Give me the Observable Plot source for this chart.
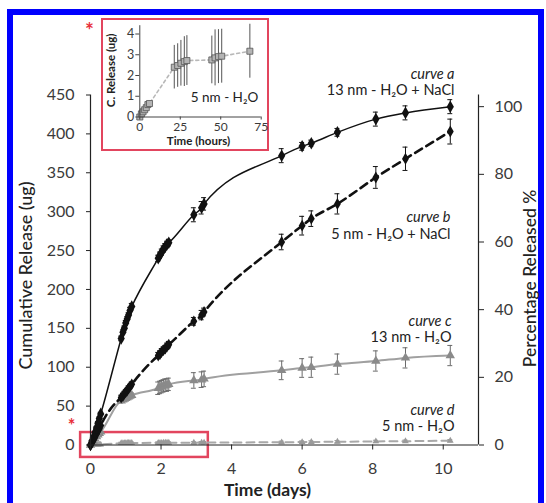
<!DOCTYPE html>
<html>
<head>
<meta charset="utf-8">
<script src="https://cdn.jsdelivr.net/npm/d3@7"></script>
<script src="https://cdn.jsdelivr.net/npm/@observablehq/plot@0.6"></script>
<style>
  html, body { margin: 0; padding: 0; background: #ffffff; }
  #wrap { position: relative; width: 546px; height: 503px; overflow: hidden; font-family: Lato, "Open Sans", sans-serif; }
  #frame { position: absolute; left: 7px; top: 9px; width: 537px; height: 520px; box-sizing: border-box;
           border: 6px solid #0000fe; border-bottom: none; }
  #main { position: absolute; left: 0; top: 0; }
  #insetBox { position: absolute; left: 101px; top: 18px; width: 168px; height: 133px; box-sizing: border-box;
              border: 2.5px solid #e2455e; background: #fff; }
  #inset { position: absolute; left: 101px; top: 18px; }
</style>
</head>
<body>
<div id="wrap">
  <div id="frame"></div>
  <div id="main"></div>
  <div id="insetBox"></div>
  <div id="inset"></div>
</div>
<script>
// ---------- DATA ----------
const sampleDays = [0, 0.04, 0.08, 0.125, 0.17, 0.21, 0.25, 0.29,
  0.87, 0.92, 0.96, 1.0, 1.04, 1.08, 1.12, 1.17,
  1.92, 1.97, 2.02, 2.07, 2.12, 2.17, 2.22,
  2.93, 3.15, 3.22,
  5.42, 6.0, 6.26, 7.0, 8.09, 8.93, 10.2];

// curve a: 13 nm - H2O + NaCl (ug)
const curveA = [0, 5, 10, 16, 22, 28, 34, 40,
  137, 145, 150, 157, 162, 167, 173, 178,
  240, 244, 248, 252, 255, 258, 260,
  296, 305, 310,
  372, 384, 388, 402, 419, 427, 435];
const errA = [0, 1, 1, 1, 2, 2, 2, 2,
  3, 3, 3, 3, 3, 3, 4, 4,
  4, 4, 4, 4, 4, 4, 4,
  9, 8, 8,
  9, 5, 4, 5, 9, 9, 9];

// curve b: 5 nm - H2O + NaCl (ug)
const curveB = [0, 3, 6, 10, 14, 18, 21, 25,
  61, 63, 66, 68, 70, 73, 75, 78,
  115, 117, 120, 122, 124, 127, 129,
  159, 167, 171,
  261, 282, 291, 310, 344, 368, 403];
const errB = [0, 1, 1, 1, 1, 1, 1, 1,
  3, 3, 3, 3, 3, 3, 3, 3,
  4, 4, 4, 4, 4, 4, 4,
  5, 6, 5,
  10, 12, 10, 13, 14, 15, 16];

// curve c: 13 nm - H2O (ug)
const curveC = [0, 3, 5, 8, 11, 13, 15, 17,
  57, 58, 59, 60, 61, 62, 63, 64,
  73, 74, 75, 76, 77, 77, 78,
  83, 84, 85,
  96, 99, 100, 104, 108, 112, 115];
const errC = [0, 1, 1, 1, 1, 1, 1, 1,
  3, 3, 3, 3, 3, 3, 3, 3,
  8, 8, 8, 8, 8, 8, 8,
  10, 10, 10,
  12, 12, 13, 13, 13, 13, 13];

// curve d: 5 nm - H2O (ug)
const curveD = [0, 0.1, 0.15, 0.25, 0.3, 0.4, 0.5, 0.6,
  2.4, 2.45, 2.5, 2.55, 2.6, 2.65, 2.7, 2.7,
  2.75, 2.8, 2.85, 2.9, 2.9, 2.92, 2.93,
  3.0, 3.1, 3.17,
  3.5, 3.8, 3.9, 4.2, 4.6, 4.9, 5.5];
const errD = [0, 0.1, 0.1, 0.1, 0.1, 0.1, 0.1, 0.1,
  1.1, 1.1, 1.1, 1.2, 1.2, 1.2, 1.2, 1.2,
  1.2, 1.3, 1.3, 1.3, 1.3, 1.3, 1.3,
  1.3, 1.3, 1.3,
  1.5, 1.5, 1.5, 1.5, 1.5, 1.5, 1.5];

const dayTicks = [0, 2, 4, 6, 8, 10];
const ugTicks = [0, 50, 100, 150, 200, 250, 300, 350, 400, 450];
const pctTicks = [0, 20, 40, 60, 80, 100];
const fullScaleUg = 435;             // 100 % released
const highlightDays = [-0.28, 3.34]; // red box region
const highlightUg = [-16, 16];

const curveNames = ["curve a", "curve b", "curve c", "curve d"];
const curveDescs = ["13 nm - H\u2082O + NaCl", "5 nm - H\u2082O + NaCl", "13 nm - H\u2082O", "5 nm - H\u2082O"];

// inset: 5 nm - H2O, first 72 hours
const insetHours = [0, 1, 2, 3, 4, 5, 6, 21.3, 23.4, 25.4, 27.5, 29.1, 44.5, 46.5, 48.6, 50.6, 68];
const insetUg = [0, 0.15, 0.25, 0.35, 0.45, 0.6, 0.65, 2.4, 2.48, 2.59, 2.67, 2.72, 2.75, 2.85, 2.91, 2.93, 3.17];
const insetErr = [0, 0.05, 0.05, 0.08, 0.1, 0.1, 0.1, 1.05, 1.05, 1.1, 1.2, 1.2, 1.15, 1.35, 1.3, 1.3, 1.3];
const insetXTicks = [0, 25, 50, 75];
const insetYTicks = [0, 1, 2, 3, 4];

// ---------- BUILD ----------
const rows = (vals, errs) => sampleDays.map((x, i) => ({x, y: vals[i], e: errs[i]}));
const A = rows(curveA, errA), B = rows(curveB, errB), C = rows(curveC, errC), D = rows(curveD, errD);
const cap = 0.07;

function errorBars(data, stroke, w) {
  return [
    Plot.ruleX(data, {x: "x", y1: d => d.y - d.e, y2: d => d.y + d.e, stroke, strokeWidth: w}),
    Plot.ruleY(data, {y: d => d.y + d.e, x1: d => d.x - cap, x2: d => d.x + cap, stroke, strokeWidth: w}),
    Plot.ruleY(data, {y: d => d.y - d.e, x1: d => d.x - cap, x2: d => d.x + cap, stroke, strokeWidth: w})
  ];
}

const labelRight = [-24, -28, -27, -24];
const labelNameY = [-26.5, 117, 220.5, 309.5];
const labelDescY = [-10.5, 133.5, 237, 326];
const font = "Lato, 'Open Sans', sans-serif";

const main = Plot.plot({
  width: 546, height: 503,
  marginLeft: 90, marginRight: 68, marginTop: 94.5, marginBottom: 58.5,
  x: {domain: [0, 11]},
  y: {domain: [0, 450]},
  style: {fontFamily: font, fontSize: "16px", background: "transparent", color: "#333", overflow: "visible"},
  marks: [
    Plot.rect([0], {x1: highlightDays[0], x2: highlightDays[1], y1: highlightUg[0], y2: highlightUg[1],
      fill: "none", stroke: "#e2455e", strokeWidth: 2.5}),
    // curve d
    Plot.line(D, {x: "x", y: "y", stroke: "#a8a8a8", strokeWidth: 2, strokeDasharray: "8,5"}),
    ...errorBars(D, "#9a9a9a", 1),
    Plot.dot(D, {x: "x", y: "y", symbol: "triangle", r: 2.5, fill: "#9a9a9a"}),
    // curve c
    Plot.line(C, {x: "x", y: "y", stroke: "#a0a0a0", strokeWidth: 2, curve: "monotone-x"}),
    ...errorBars(C, "#6a6a6a", 1),
    Plot.dot(C, {x: "x", y: "y", symbol: "triangle", r: 3.5, fill: "#8a8a8a"}),
    // curve b
    Plot.line(B, {x: "x", y: "y", stroke: "#111", strokeWidth: 2.6, strokeDasharray: "8,5", curve: "monotone-x"}),
    ...errorBars(B, "#111", 1),
    Plot.dot(B, {x: "x", y: "y", symbol: "diamond", r: 3.6, fill: "#111"}),
    // curve a
    Plot.line(A, {x: "x", y: "y", stroke: "#111", strokeWidth: 1.5, curve: "monotone-x"}),
    ...errorBars(A, "#111", 1),
    Plot.dot(A, {x: "x", y: "y", symbol: "diamond", r: 3.8, fill: "#111"}),
    // axes
    Plot.ruleX([0], {stroke: "#222", strokeWidth: 1.2}),
    Plot.ruleX([11], {stroke: "#222", strokeWidth: 1.2}),
    Plot.ruleY([0], {stroke: "#222", strokeWidth: 1.2}),
    Plot.axisX({ticks: dayTicks, tickSize: 5, tickPadding: 13, label: null, stroke: "#222", fill: "#3a3a3a"}),
    Plot.axisY({ticks: ugTicks, tickSize: 4, tickPadding: 12, label: null, stroke: "#222", fill: "#3a3a3a"}),
    Plot.axisY({anchor: "right", ticks: pctTicks.map(p => p * fullScaleUg / 100),
      tickFormat: d => String(Math.round(d * 100 / fullScaleUg)), tickSize: 5, tickPadding: 11, label: null, stroke: "#222", fill: "#3a3a3a"}),
    // axis titles
    Plot.text(["Cumulative Release (ug)"], {frameAnchor: "left", textAnchor: "middle", dx: -64, dy: 5.5, rotate: -90,
      fontSize: 18, fill: "#222", fontWeight: 500}),
    Plot.text(["Percentage Released %"], {frameAnchor: "right", textAnchor: "middle", dx: 52, dy: 8.5, rotate: -90,
      fontSize: 17.5, fill: "#222", fontWeight: 500}),
    Plot.text(["Time (days)"], {frameAnchor: "bottom", textAnchor: "middle", dx: -17, dy: 50.5,
      fontSize: 17.5, fill: "#222", fontWeight: 700}),
    // curve labels
    ...curveNames.map((n, i) => Plot.text([n], {frameAnchor: "top-right", textAnchor: "end", dx: labelRight[i], dy: labelNameY[i],
      fontSize: 14.5, fontStyle: "italic", fill: "#222"})),
    ...curveDescs.map((n, i) => Plot.text([n], {frameAnchor: "top-right", textAnchor: "end", dx: labelRight[i], dy: labelDescY[i],
      fontSize: 14.5, fill: "#222"})),
    // red asterisks
    Plot.text(["*"], {frameAnchor: "top-left", textAnchor: "middle", dx: -1, dy: -72, fontSize: 21, fill: "#e8303a", fontWeight: 700}),
    Plot.text(["*"], {frameAnchor: "top-left", textAnchor: "middle", dx: -19, dy: 324, fontSize: 18, fill: "#e8303a", fontWeight: 700})
  ]
});
document.getElementById("main").appendChild(main);

const IN = insetHours.map((x, i) => ({x, y: insetUg[i], e: insetErr[i]}));
const inset = Plot.plot({
  width: 168, height: 133,
  marginLeft: 38.3, marginRight: 8.3, marginTop: 7.2, marginBottom: 34.5,
  x: {domain: [0, 75]},
  y: {domain: [0, 4.4]},
  style: {fontFamily: font, fontSize: "12.5px", background: "transparent", color: "#333", overflow: "visible"},
  marks: [
    Plot.line(IN, {x: "x", y: "y", stroke: "#b8b8b8", strokeWidth: 1.6, strokeDasharray: "3,3"}),
    Plot.ruleX(IN, {x: "x", y1: d => d.y - d.e, y2: d => d.y + d.e, stroke: "#555", strokeWidth: 1}),
    Plot.dot(IN, {x: "x", y: "y", symbol: "square", r: 3.4, fill: "#b4b4b4", stroke: "#555", strokeWidth: 0.8}),
    Plot.ruleX([0], {stroke: "#444", strokeWidth: 1}),
    Plot.ruleY([0], {stroke: "#444", strokeWidth: 1}),
    Plot.axisX({ticks: insetXTicks, tickFormat: d => String(d), tickSize: 3, tickPadding: 2, fontSize: 12, label: null, stroke: "#444", fill: "#3a3a3a"}),
    Plot.axisY({ticks: insetYTicks, tickFormat: d => String(d), tickSize: 4, tickPadding: 1.5, label: null, stroke: "#444", fill: "#3a3a3a"}),
    Plot.text(["Time (hours)"], {frameAnchor: "bottom", textAnchor: "middle", dx: -2, dy: 27.5, fontSize: 11.5, fontWeight: 700, fill: "#222"}),
    Plot.text(["C. Release (ug)"], {frameAnchor: "left", textAnchor: "middle", dx: -28.3, dy: -1, rotate: -90, fontSize: 11.5, fontWeight: 700, fill: "#222"}),
    Plot.text(["5 nm - H\u2082O"], {frameAnchor: "bottom", textAnchor: "middle", dx: 24, dy: -14.8, fontSize: 13.5, fill: "#222"})
  ]
});
document.getElementById("inset").appendChild(inset);
</script>
</body>
</html>
